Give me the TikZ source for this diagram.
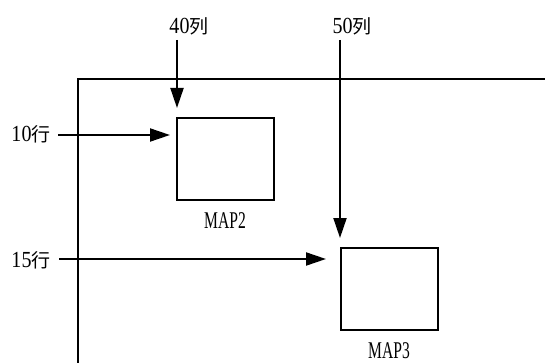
\documentclass[tikz,border=0pt]{standalone}
\usepackage{fontspec}
\setmainfont{Liberation Serif}
\newfontfamily\cjk{Noto Sans CJK SC}
\newfontfamily\narrowfont[FakeStretch=0.65]{Liberation Serif}
\newfontfamily\digitfont[FakeStretch=0.87]{Liberation Serif}
\newcommand{\cjkch}[1]{{\cjk\fontsize{19}{20}\selectfont #1}}
\usetikzlibrary{arrows.meta}
\begin{document}
\begin{tikzpicture}[x=1pt,y=-1pt,
  frameline/.style={line width=2pt},
  mapbox/.style={draw,line width=2pt,minimum width=97pt,minimum height=82pt,inner sep=0pt},
  arr/.style={line width=2pt,-{Triangle[length=20pt,width=13pt]}},
  lbl/.style={inner sep=0pt,font=\fontsize{23}{24}\selectfont\digitfont},
  maplbl/.style={inner sep=0pt,font=\fontsize{24}{26}\selectfont\narrowfont}]
\useasboundingbox (0,0) rectangle (545,363);
% frame
\draw[frameline] (78,363) -- (78,79) -- (545,79);
% boxes
\node[mapbox] (map2) at (225.5,159) {};
\node[mapbox] (map3) at (389,289) {};
\node[maplbl] (t2) at (225,221) {MAP2};
\node[maplbl] (t3) at (389,351) {MAP3};
% labels
\node[lbl] (c40) at (189,26) {40\cjkch{列}};
\node[lbl] (c50) at (352,26) {50\cjkch{列}};
\node[lbl] (r10) at (31,134) {10\cjkch{行}};
\node[lbl] (r15) at (31,260) {15\cjkch{行}};
% arrow ends
\coordinate (a40s) at (177,40);
\coordinate (a40e) at (177,108);
\coordinate (a50s) at (340,40);
\coordinate (a50e) at (340,238);
\coordinate (a10s) at (58,135);
\coordinate (a10e) at (170,135);
\coordinate (a15s) at (59,259);
\coordinate (a15e) at (326,259);
\draw[arr] (a40s) -- (a40e);
\draw[arr] (a50s) -- (a50e);
\draw[arr] (a10s) -- (a10e);
\draw[arr] (a15s) -- (a15e);
\end{tikzpicture}
\end{document}
